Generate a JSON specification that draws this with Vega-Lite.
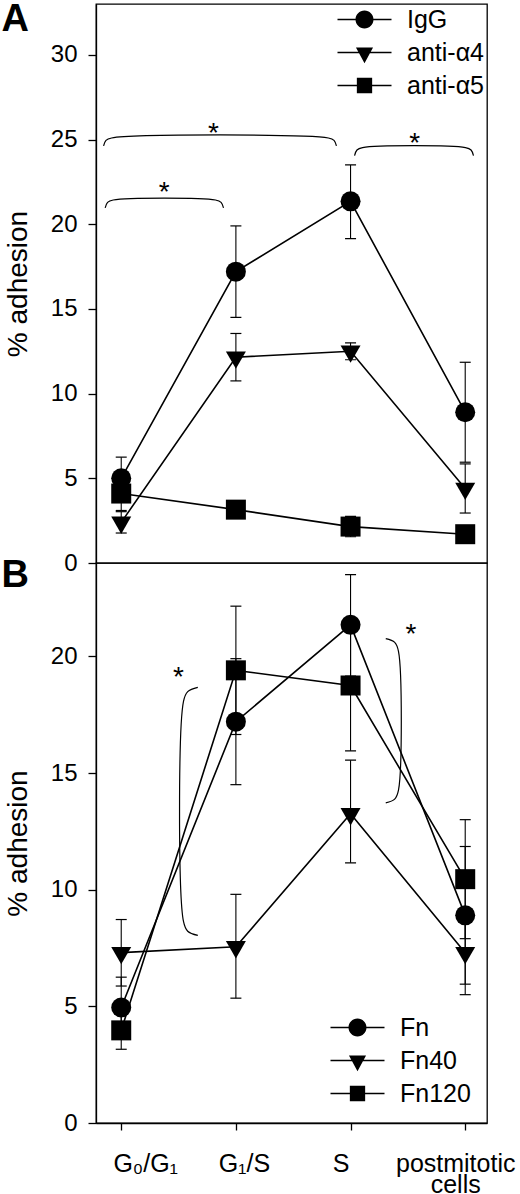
{
  "$schema": "https://vega.github.io/schema/vega-lite/v6.json",
  "padding": {"left": 0, "top": 0, "right": 0, "bottom": 0},
  "autosize": {"type": "pad"},
  "bounds": "flush",
  "spacing": 0,
  "datasets": {
    "adhesionA": [
      {"series": "IgG", "stage": 0, "mean": 5.0, "lo": 3.75, "hi": 6.25},
      {"series": "IgG", "stage": 1, "mean": 17.2, "lo": 14.5, "hi": 19.9},
      {"series": "IgG", "stage": 2, "mean": 21.35, "lo": 19.15, "hi": 23.5},
      {"series": "IgG", "stage": 3, "mean": 8.9, "lo": 5.95, "hi": 11.85},
      {"series": "anti-α4", "stage": 0, "mean": 2.4, "lo": 1.77, "hi": 3.03},
      {"series": "anti-α4", "stage": 1, "mean": 12.15, "lo": 10.75, "hi": 13.55},
      {"series": "anti-α4", "stage": 2, "mean": 12.5, "lo": 12.0, "hi": 13.0},
      {"series": "anti-α4", "stage": 3, "mean": 4.4, "lo": 2.95, "hi": 5.85},
      {"series": "anti-α5", "stage": 0, "mean": 4.1, "lo": 3.1, "hi": 5.1},
      {"series": "anti-α5", "stage": 1, "mean": 3.15, "lo": 2.85, "hi": 3.45},
      {"series": "anti-α5", "stage": 2, "mean": 2.15, "lo": 1.55, "hi": 2.75},
      {"series": "anti-α5", "stage": 3, "mean": 1.7, "lo": 1.45, "hi": 1.95}
    ],
    "adhesionB": [
      {"series": "Fn", "stage": 0, "mean": 4.95, "lo": 3.65, "hi": 6.25},
      {"series": "Fn", "stage": 1, "mean": 17.2, "lo": 14.5, "hi": 19.9},
      {"series": "Fn", "stage": 2, "mean": 21.35, "lo": 19.15, "hi": 23.5},
      {"series": "Fn", "stage": 3, "mean": 8.9, "lo": 5.95, "hi": 11.85},
      {"series": "Fn40", "stage": 0, "mean": 7.3, "lo": 5.87, "hi": 8.72},
      {"series": "Fn40", "stage": 1, "mean": 7.55, "lo": 5.35, "hi": 9.8},
      {"series": "Fn40", "stage": 2, "mean": 13.25, "lo": 11.15, "hi": 15.55},
      {"series": "Fn40", "stage": 3, "mean": 7.3, "lo": 5.5, "hi": 9.1},
      {"series": "Fn120", "stage": 0, "mean": 3.97, "lo": 3.16, "hi": 4.78},
      {"series": "Fn120", "stage": 1, "mean": 19.4, "lo": 16.65, "hi": 22.15},
      {"series": "Fn120", "stage": 2, "mean": 18.75, "lo": 15.95, "hi": 21.55},
      {"series": "Fn120", "stage": 3, "mean": 10.45, "lo": 7.9, "hi": 13.0}
    ],
    "bracketsA": [
      {"bracket": "a1", "order": 1, "bx": -0.154, "by": 24.62},
      {"bracket": "a1", "order": 2, "bx": -0.133, "by": 24.95},
      {"bracket": "a1", "order": 3, "bx": -0.084, "by": 25.09},
      {"bracket": "a1", "order": 4, "bx": 1.807, "by": 25.09},
      {"bracket": "a1", "order": 5, "bx": 1.856, "by": 24.95},
      {"bracket": "a1", "order": 6, "bx": 1.877, "by": 24.62},
      {"bracket": "a2", "order": 1, "bx": 2.035, "by": 24.05},
      {"bracket": "a2", "order": 2, "bx": 2.056, "by": 24.38},
      {"bracket": "a2", "order": 3, "bx": 2.105, "by": 24.52},
      {"bracket": "a2", "order": 4, "bx": 3.002, "by": 24.52},
      {"bracket": "a2", "order": 5, "bx": 3.051, "by": 24.38},
      {"bracket": "a2", "order": 6, "bx": 3.072, "by": 24.05},
      {"bracket": "a3", "order": 1, "bx": -0.14, "by": 20.96},
      {"bracket": "a3", "order": 2, "bx": -0.119, "by": 21.29},
      {"bracket": "a3", "order": 3, "bx": -0.07, "by": 21.43},
      {"bracket": "a3", "order": 4, "bx": 0.822, "by": 21.43},
      {"bracket": "a3", "order": 5, "bx": 0.871, "by": 21.29},
      {"bracket": "a3", "order": 6, "bx": 0.892, "by": 20.96}
    ],
    "bracketsB": [
      {"bracket": "b1", "order": 1, "bx": 0.668, "by": 18.67},
      {"bracket": "b1", "order": 2, "bx": 0.58, "by": 18.49},
      {"bracket": "b1", "order": 3, "bx": 0.543, "by": 18.07},
      {"bracket": "b1", "order": 4, "bx": 0.543, "by": 8.64},
      {"bracket": "b1", "order": 5, "bx": 0.58, "by": 8.22},
      {"bracket": "b1", "order": 6, "bx": 0.668, "by": 8.04},
      {"bracket": "b2", "order": 1, "bx": 2.307, "by": 20.76},
      {"bracket": "b2", "order": 2, "bx": 2.385, "by": 20.6},
      {"bracket": "b2", "order": 3, "bx": 2.418, "by": 20.215},
      {"bracket": "b2", "order": 4, "bx": 2.418, "by": 14.265},
      {"bracket": "b2", "order": 5, "bx": 2.385, "by": 13.88},
      {"bracket": "b2", "order": 6, "bx": 2.307, "by": 13.72}
    ],
    "starsA": [
      {"sx": 0.805, "sy": 24.88},
      {"sx": 2.56, "sy": 24.29},
      {"sx": 0.375, "sy": 21.35}
    ],
    "starsB": [
      {"sx": 0.5, "sy": 18.73},
      {"sx": 2.526, "sy": 20.59}
    ],
    "panelA": [{"panel": "A", "px": -1.045, "py": 31.42}],
    "panelB": [{"panel": "B", "px": -1.045, "py": 22.97}]
  },
  "vconcat": [
    {
      "width": 391,
      "height": 559,
      "layer": [
        {
          "data": {"name": "adhesionA"},
          "mark": {"type": "line", "color": "black", "strokeWidth": 1.6},
          "encoding": {
            "x": {"field": "stage", "type": "quantitative", "scale": {"domain": [-0.22, 3.19], "nice": false, "zero": false}, "axis": null},
            "y": {"field": "mean", "type": "quantitative", "title": "% adhesion", "scale": {"domain": [0, 33], "nice": false, "zero": false}, "axis": {"values": [0, 5, 10, 15, 20, 25, 30]}},
            "detail": {"field": "series"}
          }
        },
        {
          "data": {"name": "adhesionA"},
          "mark": {"type": "rule", "color": "black", "strokeWidth": 1.1},
          "encoding": {
            "x": {"field": "stage", "type": "quantitative"},
            "y": {"field": "lo", "type": "quantitative", "title": "% adhesion"},
            "y2": {"field": "hi"}
          }
        },
        {
          "data": {"name": "adhesionA"},
          "mark": {"type": "tick", "orient": "horizontal", "size": 11, "thickness": 1.2, "color": "black", "opacity": 1},
          "encoding": {
            "x": {"field": "stage", "type": "quantitative"},
            "y": {"field": "lo", "type": "quantitative", "title": "% adhesion"}
          }
        },
        {
          "data": {"name": "adhesionA"},
          "mark": {"type": "tick", "orient": "horizontal", "size": 11, "thickness": 1.2, "color": "black", "opacity": 1},
          "encoding": {
            "x": {"field": "stage", "type": "quantitative"},
            "y": {"field": "hi", "type": "quantitative", "title": "% adhesion"}
          }
        },
        {
          "data": {"name": "adhesionA"},
          "mark": {"type": "point", "filled": true, "color": "black", "opacity": 1, "strokeWidth": 0},
          "encoding": {
            "x": {"field": "stage", "type": "quantitative"},
            "y": {"field": "mean", "type": "quantitative", "title": "% adhesion"},
            "shape": {"field": "series", "scale": {"domain": ["IgG", "anti-α4", "anti-α5"], "range": ["circle", "M-1,-0.577L1,-0.577L0,1.155Z", "square"]}, "legend": null},
            "size": {"field": "series", "scale": {"domain": ["IgG", "anti-α4", "anti-α5"], "range": [400, 400, 289]}, "legend": null}
          }
        },
        {
          "data": {"name": "adhesionA"},
          "mark": {"type": "point", "filled": true, "color": "black", "opacity": 1, "strokeWidth": 0, "clip": true},
          "encoding": {
            "y": {"datum": -100, "type": "quantitative", "title": "% adhesion"},
            "shape": {
              "field": "series",
              "scale": {"domain": ["IgG", "anti-α4", "anti-α5"], "range": [
                "M-3,-0.08H3V0.08H-3ZM1,0A1,1,0,1,1,-1,0A1,1,0,1,1,1,0Z",
                "M-3,-0.08H3V0.08H-3ZM-0.95,-0.55L0.95,-0.55L0,1.2Z",
                "M-3,-0.08H3V0.08H-3ZM-0.85,-0.85H0.85V0.85H-0.85Z"
              ]},
              "legend": {"title": null, "orient": "top-right", "offset": 3}
            }
          }
        },
        {
          "data": {"name": "bracketsA"},
          "mark": {"type": "line", "color": "black", "strokeWidth": 1.2, "interpolate": "catmull-rom"},
          "encoding": {
            "x": {"field": "bx", "type": "quantitative"},
            "y": {"field": "by", "type": "quantitative", "title": "% adhesion"},
            "detail": {"field": "bracket"},
            "order": {"field": "order"}
          }
        },
        {
          "data": {"name": "starsA"},
          "mark": {"type": "text", "text": "*", "fontSize": 28, "baseline": "alphabetic", "align": "center", "color": "black"},
          "encoding": {
            "x": {"field": "sx", "type": "quantitative"},
            "y": {"field": "sy", "type": "quantitative", "title": "% adhesion"}
          }
        },
        {
          "data": {"name": "panelA"},
          "mark": {"type": "text", "fontSize": 38, "fontWeight": "bold", "baseline": "alphabetic", "align": "left", "color": "black", "clip": false},
          "encoding": {
            "x": {"field": "px", "type": "quantitative"},
            "y": {"field": "py", "type": "quantitative", "title": "% adhesion"},
            "text": {"field": "panel"}
          }
        }
      ],
      "resolve": {"scale": {"shape": "independent"}}
    },
    {
      "width": 391,
      "height": 560,
      "layer": [
        {
          "data": {"name": "adhesionB"},
          "mark": {"type": "line", "color": "black", "strokeWidth": 1.6},
          "encoding": {
            "x": {
              "field": "stage", "type": "quantitative", "title": null,
              "scale": {"domain": [-0.22, 3.19], "nice": false, "zero": false},
              "axis": {
                "values": [0, 1, 2, 3],
                "labelExpr": "datum.value == 0 ? 'G₀/G₁' : datum.value == 1 ? 'G₁/S' : datum.value == 2 ? 'S' : ['postmitotic', 'cells']",
                "tickSize": 7,
                "labelFontSize": 25,
                "labelPadding": 21,
                "labelBaseline": "top",
                "labelLineHeight": 21,
                "labelFlush": false,
                "labelOverlap": false,
                "labelOffset": {"condition": [{"test": "datum.value == 0", "value": 24}, {"test": "datum.value == 1", "value": 8}], "value": -10}
              }
            },
            "y": {"field": "mean", "type": "quantitative", "title": "% adhesion", "scale": {"domain": [0, 24], "nice": false, "zero": false}, "axis": {"values": [0, 5, 10, 15, 20]}},
            "detail": {"field": "series"}
          }
        },
        {
          "data": {"name": "adhesionB"},
          "mark": {"type": "rule", "color": "black", "strokeWidth": 1.1},
          "encoding": {
            "x": {"field": "stage", "type": "quantitative", "title": null},
            "y": {"field": "lo", "type": "quantitative", "title": "% adhesion"},
            "y2": {"field": "hi"}
          }
        },
        {
          "data": {"name": "adhesionB"},
          "mark": {"type": "tick", "orient": "horizontal", "size": 11, "thickness": 1.2, "color": "black", "opacity": 1},
          "encoding": {
            "x": {"field": "stage", "type": "quantitative", "title": null},
            "y": {"field": "lo", "type": "quantitative", "title": "% adhesion"}
          }
        },
        {
          "data": {"name": "adhesionB"},
          "mark": {"type": "tick", "orient": "horizontal", "size": 11, "thickness": 1.2, "color": "black", "opacity": 1},
          "encoding": {
            "x": {"field": "stage", "type": "quantitative", "title": null},
            "y": {"field": "hi", "type": "quantitative", "title": "% adhesion"}
          }
        },
        {
          "data": {"name": "adhesionB"},
          "mark": {"type": "point", "filled": true, "color": "black", "opacity": 1, "strokeWidth": 0},
          "encoding": {
            "x": {"field": "stage", "type": "quantitative", "title": null},
            "y": {"field": "mean", "type": "quantitative", "title": "% adhesion"},
            "shape": {"field": "series", "scale": {"domain": ["Fn", "Fn40", "Fn120"], "range": ["circle", "M-1,-0.577L1,-0.577L0,1.155Z", "square"]}, "legend": null},
            "size": {"field": "series", "scale": {"domain": ["Fn", "Fn40", "Fn120"], "range": [400, 400, 289]}, "legend": null}
          }
        },
        {
          "data": {"name": "adhesionB"},
          "mark": {"type": "point", "filled": true, "color": "black", "opacity": 1, "strokeWidth": 0, "clip": true},
          "encoding": {
            "y": {"datum": -100, "type": "quantitative", "title": "% adhesion"},
            "shape": {
              "field": "series",
              "scale": {"domain": ["Fn", "Fn40", "Fn120"], "range": [
                "M-3,-0.08H3V0.08H-3ZM1,0A1,1,0,1,1,-1,0A1,1,0,1,1,1,0Z",
                "M-3,-0.08H3V0.08H-3ZM-0.95,-0.55L0.95,-0.55L0,1.2Z",
                "M-3,-0.08H3V0.08H-3ZM-0.85,-0.85H0.85V0.85H-0.85Z"
              ]},
              "legend": {"title": null, "orient": "bottom-right", "offset": 16}
            }
          }
        },
        {
          "data": {"name": "bracketsB"},
          "mark": {"type": "line", "color": "black", "strokeWidth": 1.2, "interpolate": "catmull-rom"},
          "encoding": {
            "x": {"field": "bx", "type": "quantitative", "title": null},
            "y": {"field": "by", "type": "quantitative", "title": "% adhesion"},
            "detail": {"field": "bracket"},
            "order": {"field": "order"}
          }
        },
        {
          "data": {"name": "starsB"},
          "mark": {"type": "text", "text": "*", "fontSize": 28, "baseline": "alphabetic", "align": "center", "color": "black"},
          "encoding": {
            "x": {"field": "sx", "type": "quantitative", "title": null},
            "y": {"field": "sy", "type": "quantitative", "title": "% adhesion"}
          }
        },
        {
          "data": {"name": "panelB"},
          "mark": {"type": "text", "fontSize": 38, "fontWeight": "bold", "baseline": "alphabetic", "align": "left", "color": "black", "clip": false},
          "encoding": {
            "x": {"field": "px", "type": "quantitative", "title": null},
            "y": {"field": "py", "type": "quantitative", "title": "% adhesion"},
            "text": {"field": "panel"}
          }
        }
      ],
      "resolve": {"scale": {"shape": "independent"}}
    }
  ],
  "config": {
    "font": "Liberation Sans",
    "view": {"stroke": "black", "strokeWidth": 1.3},
    "axis": {
      "domainColor": "black",
      "domainWidth": 1.3,
      "tickColor": "black",
      "tickWidth": 1.3,
      "tickSize": 8,
      "labelColor": "black",
      "labelFontSize": 24,
      "labelPadding": 11,
      "titleFontSize": 28,
      "titleFontWeight": "normal",
      "titleColor": "black",
      "titlePadding": 18,
      "grid": false
    },
    "legend": {
      "symbolSize": 324,
      "symbolStrokeWidth": 0,
      "symbolFillColor": "black",
      "labelFontSize": 25,
      "labelColor": "black",
      "labelOffset": 30,
      "rowPadding": 7,
      "padding": 0
    }
  }
}
